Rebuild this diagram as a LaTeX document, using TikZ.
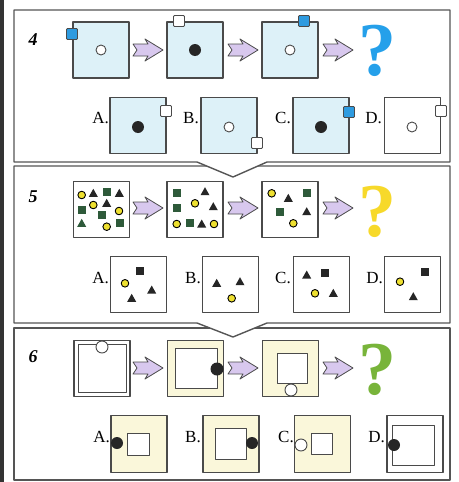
\documentclass[tikz,border=0pt]{standalone}
\usepackage{fontspec}
\setmainfont{Liberation Serif}
\definecolor{framegray}{HTML}{555555}
\definecolor{linegray}{HTML}{4A4A4A}
\definecolor{lblue}{HTML}{DDF1F8}
\definecolor{sblue}{HTML}{2E9BE0}
\definecolor{lav}{HTML}{D8C8EE}
\definecolor{qblue}{HTML}{25A0EA}
\definecolor{qyellow}{HTML}{F7D92A}
\definecolor{qgreen}{HTML}{78B43A}
\definecolor{lyellow}{HTML}{FAF7DA}
\definecolor{dgreen}{HTML}{2E5A3A}
\definecolor{ycirc}{HTML}{EEE030}
\definecolor{bardark}{HTML}{333333}
\begin{document}
\begin{tikzpicture}[x=1pt,y=-1pt,line join=round,
  frame/.style={draw=framegray,line width=1.4pt},
  sq/.style={draw=linegray,line width=1.1pt,minimum size=56pt,inner sep=0pt},
  insq/.style={draw=linegray,line width=1pt,fill=white,inner sep=0pt},
  smsq/.style={draw=linegray,line width=0.8pt,minimum size=11pt,inner sep=0pt,rounded corners=1pt},
  opencirc/.style={circle,draw=linegray,line width=0.9pt,fill=white,inner sep=0pt},
  dot/.style={circle,fill=black!85,inner sep=0pt},
  numlbl/.style={font=\fontsize{18}{18}\selectfont\bfseries\itshape,inner sep=0pt},
  anslbl/.style={font=\fontsize{17}{17}\selectfont,inner sep=0pt,anchor=east},
  qmark/.style={font=\fontsize{76}{76}\selectfont\bfseries,inner sep=0pt},
  fatarr/.pic={\draw[fill=lav,draw=linegray,line width=0.8pt] (0,-6) -- (15,-6) -- (12,-11) -- (30,0) -- (12,11) -- (15,6) -- (0,6) -- (4,0) -- cycle;},
  yc/.pic={\draw[fill=ycirc,draw=black,line width=0.9pt] (0,0) circle (3.8pt);},
  bt/.pic={\fill[black!85] (-4.5,3.5) -- (4.5,3.5) -- (0,-4.5) -- cycle;},
  gt/.pic={\fill[dgreen] (-4.5,3.5) -- (4.5,3.5) -- (0,-4.5) -- cycle;},
  gs/.pic={\fill[dgreen] (-4,-4) rectangle (4,4);},
  bs/.pic={\fill[black!85] (-4,-4) rectangle (4,4);}
]
\useasboundingbox (0,0) rectangle (458,482);
\fill[white] (0,0) rectangle (458,482);
\fill[bardark] (0,0) rectangle (4,482);

% panel frames
\draw[frame,fill=white] (14,328) rectangle (450,480);
\draw[frame,fill=white] (14,166) -- (450,166) -- (450,323) -- (267,323) -- (233,337) -- (197,323) -- (14,323) -- cycle;
\draw[frame,fill=white] (14,10) -- (450,10) -- (450,162) -- (267,162) -- (233,177) -- (197,162) -- (14,162) -- cycle;

% ===== Panel 4 =====
\node[numlbl] (n4) at (33,40) {4};
\node[sq,fill=lblue] (s41) at (101,50) {};
\node[smsq,fill=sblue] (m41) at (72,34) {};
\node[opencirc,minimum size=10pt] (c41) at (101,50) {};
\pic at (133,50) {fatarr};
\node[sq,fill=lblue] (s42) at (195,50) {};
\node[smsq,fill=white] (m42) at (179,21) {};
\node[dot,minimum size=12pt] (d42) at (195,50) {};
\pic at (228,50) {fatarr};
\node[sq,fill=lblue] (s43) at (290,50) {};
\node[smsq,fill=sblue] (m43) at (304,21) {};
\node[opencirc,minimum size=10pt] (c43) at (290,50) {};
\pic at (323,50) {fatarr};
\node[qmark,text=qblue] (q4) at (377,51) {?};

\node[anslbl] (a4) at (109,118) {A.};
\node[sq,fill=lblue] (sa4) at (138,125.5) {};
\node[dot,minimum size=12pt] at (138,127) {};
\node[smsq,fill=white] at (166,111) {};
\node[anslbl] (b4) at (199,118) {B.};
\node[sq,fill=lblue] (sb4) at (229,125.5) {};
\node[opencirc,minimum size=10pt] at (229,127) {};
\node[smsq,fill=white] at (257,143) {};
\node[anslbl] (cc4) at (291,118) {C.};
\node[sq,fill=lblue] (sc4) at (321,125.5) {};
\node[dot,minimum size=12pt] at (321,127) {};
\node[smsq,fill=sblue] at (349,112) {};
\node[anslbl] (dd4) at (382,118) {D.};
\node[sq,fill=white] (sd4) at (412.5,125.5) {};
\node[opencirc,minimum size=10pt] at (412,127) {};
\node[smsq,fill=white] at (441,111) {};

% ===== Panel 5 =====
\node[numlbl] (n5) at (33,197) {5};
\node[sq,fill=white] (s51) at (101.5,209.5) {};
\pic at (81.7,195) {yc};
\pic at (93.3,193.3) {bt};
\pic at (106.7,191.7) {gs};
\pic at (119.3,193.3) {bt};
\pic at (93.3,205) {yc};
\pic at (106.7,203.3) {bt};
\pic at (81.7,210) {gs};
\pic at (119,211) {yc};
\pic at (101.7,215) {gs};
\pic at (81.7,223.3) {gt};
\pic at (106.7,226.7) {yc};
\pic at (120,223.3) {gs};
\pic at (133,208) {fatarr};
\node[sq,fill=white] (s52) at (195,209.5) {};
\pic at (176.7,193.3) {gs};
\pic at (205,191.7) {bt};
\pic at (195,203.3) {yc};
\pic at (176.7,208.3) {gs};
\pic at (213.3,206.7) {bt};
\pic at (176.7,224) {yc};
\pic at (189.5,223.3) {gs};
\pic at (201.7,224) {bt};
\pic at (214,224) {yc};
\pic at (228,208) {fatarr};
\node[sq,fill=white] (s53) at (290,209.5) {};
\pic at (271.7,193.3) {yc};
\pic at (288.3,198.3) {bt};
\pic at (306.7,193.3) {gs};
\pic at (280,211.7) {gs};
\pic at (306.7,211.7) {bt};
\pic at (293.3,223.3) {yc};
\pic at (323,208) {fatarr};
\node[qmark,text=qyellow] (q5) at (377,212) {?};

\node[anslbl] (a5) at (109,278) {A.};
\node[sq,fill=white] (sa5) at (138.5,284.5) {};
\pic at (140,270.7) {bs};
\pic at (125,283.3) {yc};
\pic at (151.7,290) {bt};
\pic at (131.7,298.3) {bt};
\node[anslbl] (b5) at (201,278) {B.};
\node[sq,fill=white] (sb5) at (230.5,284.5) {};
\pic at (216.7,283.3) {bt};
\pic at (240,281.7) {bt};
\pic at (231.7,298.3) {yc};
\node[anslbl] (cc5) at (291,278) {C.};
\node[sq,fill=white] (sc5) at (321.5,284.5) {};
\pic at (306.7,275) {bt};
\pic at (325,273.3) {bs};
\pic at (315,293.3) {yc};
\pic at (333.3,293.3) {bt};
\node[anslbl] (dd5) at (383,278) {D.};
\node[sq,fill=white] (sd5) at (412.5,284.5) {};
\pic at (400,281.7) {yc};
\pic at (425,271.7) {bs};
\pic at (413.3,296.7) {bt};

% ===== Panel 6 =====
\node[numlbl] (n6) at (33,357) {6};
\node[sq,fill=white] (s61) at (102,368.5) {};
\node[insq,minimum size=48pt] (i61) at (102,368.5) {};
\node[opencirc,minimum size=12pt] at (102,347) {};
\pic at (133,368) {fatarr};
\node[sq,fill=lyellow] (s62) at (195.5,368.5) {};
\node[insq,minimum width=42pt,minimum height=40pt] (i62) at (196,368) {};
\node[dot,minimum size=13pt] at (217,369) {};
\pic at (228,368) {fatarr};
\node[sq,fill=lyellow] (s63) at (290.5,368.5) {};
\node[insq,minimum size=30pt] (i63) at (292,368) {};
\node[opencirc,minimum size=12pt] at (291,390) {};
\pic at (323,368) {fatarr};
\node[qmark,text=qgreen] (q6) at (377,370) {?};

\node[anslbl] (a6) at (110,437) {A.};
\node[sq,fill=lyellow,minimum height=57pt] (sa6) at (139,444) {};
\node[insq,minimum size=22pt] at (138.5,444) {};
\node[dot,minimum size=12pt] at (117,443) {};
\node[anslbl] (b6) at (201,437) {B.};
\node[sq,fill=lyellow,minimum height=57pt] (sb6) at (231,444) {};
\node[insq,minimum size=31pt] at (231,444) {};
\node[dot,minimum size=12pt] at (252,443) {};
\node[anslbl] (cc6) at (294,437) {C.};
\node[sq,fill=lyellow,minimum height=57pt] (sc6) at (322.5,444) {};
\node[insq,minimum size=21pt] at (322,444) {};
\node[opencirc,minimum size=12pt] at (301,445) {};
\node[anslbl] (dd6) at (385,437) {D.};
\node[sq,fill=white,minimum height=57pt] (sd6) at (415,444) {};
\node[insq,minimum width=42pt,minimum height=40pt] at (413.5,445) {};
\node[dot,minimum size=12pt] at (394,445) {};
\end{tikzpicture}
\end{document}
